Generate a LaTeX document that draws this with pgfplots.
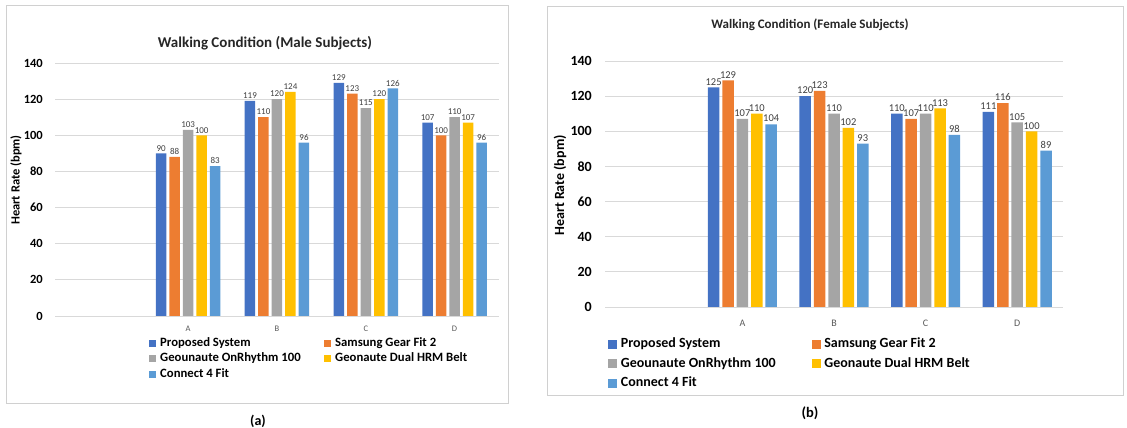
\documentclass[border=0pt]{standalone}
\usepackage{fontspec}
\setmainfont{Carlito}
\usepackage{pgfplots}
\pgfplotsset{compat=1.18}
\definecolor{c1}{HTML}{4472C4}
\definecolor{c2}{HTML}{ED7D31}
\definecolor{c3}{HTML}{A5A5A5}
\definecolor{c4}{HTML}{FFC000}
\definecolor{c5}{HTML}{5B9BD5}
\definecolor{gridc}{HTML}{D9D9D9}
\definecolor{lblc}{HTML}{404040}
\definecolor{catc}{HTML}{595959}
\definecolor{borderc}{HTML}{D0D0D0}
\pgfplotsset{
  lbar/.style={fill=#1, draw=none, legend image code/.code={\fill[#1] (0pt,-3.5pt) rectangle (7pt,3.5pt);}},
  rbar/.style={fill=#1, draw=none, legend image code/.code={\fill[#1] (0pt,-4.5pt) rectangle (9pt,4.5pt);}},
  common/.style={
    scale only axis, ybar, clip=false,
    xmin=-0.5, xmax=4.5, ymin=0, ymax=140,
    xtick={1,2,3,4}, xticklabels={A,B,C,D},
    ytick={0,20,...,140},
    major tick length=0pt,
    axis line style={draw=none},
    ymajorgrids, grid style={draw=gridc, line width=0.75pt},
    /pgf/number format/assume math mode=true,
    nodes near coords,
    legend columns=2,
  },
}
\begin{document}
\begin{tikzpicture}
\useasboundingbox (0,0) rectangle (1127pt,428pt);
\draw[borderc, line width=0.6pt] (6pt,423pt) rectangle (508pt,25pt);
\draw[borderc, line width=0.6pt] (547pt,422pt) rectangle (1123pt,33pt);

% ---------- Left panel ----------
\begin{axis}[common,
  at={(55pt,112pt)}, anchor=south west,
  width=444pt, height=253pt,
  bar width=10.5pt, ybar=3pt,
  yticklabel style={anchor=east, inner sep=0pt, xshift=-12pt, font=\bfseries\fontsize{12.5}{14}\selectfont},
  xticklabel style={anchor=north, inner sep=0pt, yshift=-10pt, text=catc, font=\fontsize{8.5}{10}\selectfont},
  every node near coord/.append style={text=lblc, font=\fontsize{9}{10}\selectfont, inner sep=2pt},
  legend style={draw=none, fill=none, at={(axis description cs:0.2106,-0.083)}, anchor=north west,
    inner sep=0pt, column sep=0pt, row sep=3.5pt,
    font=\bfseries\fontsize{12.7}{14}\selectfont,
    nodes={inner xsep=4.5pt, inner ysep=0pt, text height=9pt, text depth=3pt},
    cells={anchor=west}},
]
\addplot[lbar=c1] coordinates {(1,90) (2,119) (3,129) (4,107)};
\addlegendentry{\makebox[159pt][l]{Proposed System}}
\addplot[lbar=c2] coordinates {(1,88) (2,110) (3,123) (4,100)};
\addlegendentry{Samsung Gear Fit 2}
\addplot[lbar=c3] coordinates {(1,103) (2,120) (3,115) (4,110)};
\addlegendentry{\makebox[159pt][l]{Geounaute OnRhythm 100}}
\addplot[lbar=c4] coordinates {(1,100) (2,124) (3,120) (4,107)};
\addlegendentry{Geonaute Dual HRM Belt}
\addplot[lbar=c5] coordinates {(1,83) (2,96) (3,126) (4,96)};
\addlegendentry{\makebox[159pt][l]{Connect 4 Fit}}
\end{axis}

% ---------- Right panel ----------
\begin{axis}[common,
  at={(605pt,121pt)}, anchor=south west,
  width=458pt, height=246pt,
  bar width=11.5pt, ybar=2.9pt,
  yticklabel style={anchor=east, inner sep=0pt, xshift=-13pt, font=\bfseries\fontsize{14}{16}\selectfont},
  xticklabel style={anchor=north, inner sep=0pt, yshift=-12.8pt, text=catc, font=\fontsize{10}{12}\selectfont},
  every node near coord/.append style={text=lblc, font=\fontsize{10.5}{12}\selectfont, inner sep=2pt},
  legend style={draw=none, fill=none, at={(axis description cs:0.0066,-0.122)}, anchor=north west,
    inner sep=0pt, column sep=0pt, row sep=5.5pt,
    font=\bfseries\fontsize{14}{16}\selectfont,
    nodes={inner xsep=3.7pt, inner ysep=0pt, text height=10.5pt, text depth=3.5pt},
    cells={anchor=west}},
]
\addplot[rbar=c1] coordinates {(1,125) (2,120) (3,110) (4,111)};
\addlegendentry{\makebox[187pt][l]{Proposed System}}
\addplot[rbar=c2] coordinates {(1,129) (2,123) (3,107) (4,116)};
\addlegendentry{Samsung Gear Fit 2}
\addplot[rbar=c3] coordinates {(1,107) (2,110) (3,110) (4,105)};
\addlegendentry{\makebox[187pt][l]{Geounaute OnRhythm 100}}
\addplot[rbar=c4] coordinates {(1,110) (2,102) (3,113) (4,100)};
\addlegendentry{Geonaute Dual HRM Belt}
\addplot[rbar=c5] coordinates {(1,104) (2,93) (3,98) (4,89)};
\addlegendentry{\makebox[187pt][l]{Connect 4 Fit}}
\end{axis}

\node[font=\bfseries\fontsize{15}{18}\selectfont, text=black!85] at (265pt,385pt) {Walking Condition (Male Subjects)};
\node[font=\bfseries\fontsize{13}{16}\selectfont, text=black!85] at (810pt,403pt) {Walking Condition (Female Subjects)};
\node[rotate=90, font=\bfseries\fontsize{12.5}{15}\selectfont] at (16pt,248pt) {Heart Rate (bpm)};
\node[rotate=90, font=\bfseries\fontsize{14}{16}\selectfont] at (560pt,242.5pt) {Heart Rate (bpm)};
\node[font=\bfseries\fontsize{14}{16}\selectfont] at (258pt,7pt) {(a)};
\node[font=\bfseries\fontsize{14.5}{16}\selectfont] at (810pt,15pt) {(b)};
\end{tikzpicture}
\end{document}
